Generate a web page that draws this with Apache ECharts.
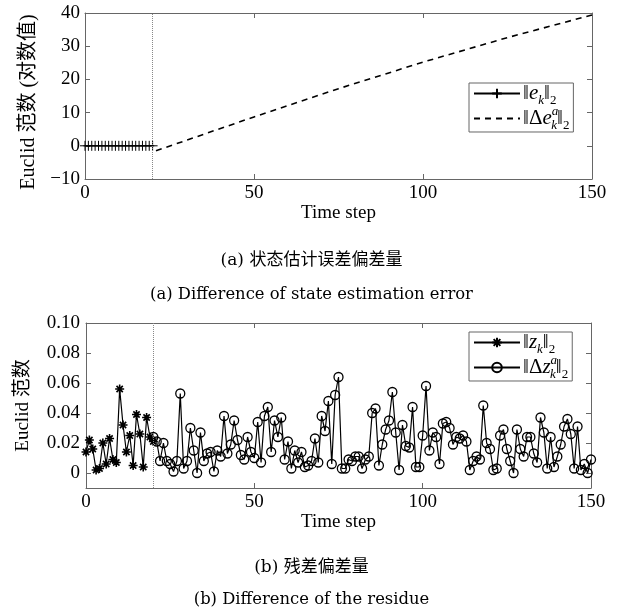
<!DOCTYPE html>
<html>
<head>
<meta charset="utf-8">
<script src="https://cdn.jsdelivr.net/npm/echarts@6/dist/echarts.min.js"></script>
<style>
  html, body { margin: 0; padding: 0; background: #fff; }
  #chart { width: 623px; height: 615px; }
</style>
</head>
<body>
<div id="chart"></div>
<script>
// top panel: state estimation error
const eStart = 0
const eNorm = [0, 0, 0, 0, 0, 0, 0, 0, 0, 0, 0, 0, 0, 0, 0, 0, 0, 0, 0, 0, 0]
const deSteps = [21, 50, 75, 100, 125, 150]
const deNorm = [-1.5, 8.7, 17.2, 25.2, 32.6, 39.4]

// bottom panel: residue
const zStart = 0
const zNorm = [0.014, 0.022, 0.016, 0.002, 0.003, 0.020, 0.006, 0.023, 0.009, 0.007,
  0.056, 0.032, 0.014, 0.025, 0.005, 0.039, 0.026, 0.004, 0.037, 0.024, 0.021]
const dzStart = 20
const dzNorm = [
  0.024, 0.021, 0.008, 0.020, 0.008, 0.006, 0.001, 0.008, 0.053, 0.003,
  0.008, 0.030, 0.015, 0.000, 0.027, 0.008, 0.013, 0.014, 0.001, 0.015,
  0.011, 0.038, 0.013, 0.019, 0.035, 0.022, 0.012, 0.009, 0.024, 0.014,
  0.010, 0.034, 0.007, 0.038, 0.044, 0.014, 0.035, 0.024, 0.037, 0.009,
  0.021, 0.003, 0.015, 0.007, 0.014, 0.004, 0.005, 0.008, 0.023, 0.007,
  0.038, 0.028, 0.048, 0.006, 0.052, 0.064, 0.003, 0.003, 0.009, 0.008,
  0.011, 0.011, 0.003, 0.009, 0.011, 0.040, 0.043, 0.005, 0.019, 0.029,
  0.035, 0.054, 0.027, 0.002, 0.032, 0.018, 0.017, 0.044, 0.004, 0.004,
  0.025, 0.058, 0.015, 0.027, 0.024, 0.006, 0.033, 0.034, 0.030, 0.019,
  0.024, 0.023, 0.025, 0.021, 0.002, 0.008, 0.011, 0.009, 0.045, 0.020,
  0.016, 0.002, 0.003, 0.025, 0.029, 0.016, 0.008, 0.000, 0.029, 0.016,
  0.011, 0.024, 0.024, 0.013, 0.007, 0.037, 0.027, 0.003, 0.024, 0.004,
  0.011, 0.019, 0.031, 0.036, 0.026, 0.003, 0.031, 0.002, 0.006, 0.000,
  0.009
]

const yTicksBottom = [0, 0.02, 0.04, 0.06, 0.08, 0.10]
const changeStep = 20

const serif = "'Liberation Serif', 'Noto Sans CJK SC', serif"
const capFont = "'DejaVu Serif', 'Noto Sans CJK SC', serif"
const axisGray = '#666'

const pairs = (start, arr) => arr.map((v, i) => [start + i, v])
const zip = (xs, ys) => xs.map((x, i) => [x, ys[i]])

const plusPath = 'path://M0,-10L0,10M-10,0L10,0'
const starPath = 'path://M0,-10L0,10M-10,0L10,0M-7,-7L7,7M-7,7L7,-7'

const rich = {
  n: { fontSize: 21, fontFamily: serif, color: '#000' },
  i: { fontSize: 21, fontFamily: serif, fontStyle: 'italic', color: '#000' },
  sub: { fontSize: 13, fontFamily: serif, fontStyle: 'italic', color: '#000', verticalAlign: 'bottom', lineHeight: 27 },
  subk: { fontSize: 13, fontFamily: serif, fontStyle: 'italic', color: '#000', verticalAlign: 'bottom', lineHeight: 27, padding: [0, 0, 0, -7] },
  sub2: { fontSize: 13, fontFamily: serif, color: '#000', verticalAlign: 'bottom', lineHeight: 27 },
  sup: { fontSize: 13, fontFamily: serif, fontStyle: 'italic', color: '#000', verticalAlign: 'top', lineHeight: 27 }
}
const legendText = {
  e: '{n|‖}{i|e}{sub|k}{n|‖}{sub2|2}',
  de: '{n|‖Δ}{i|e}{sup|a}{subk|k}{n|‖}{sub2|2}',
  z: '{n|‖}{i|z}{sub|k}{n|‖}{sub2|2}',
  dz: '{n|‖Δ}{i|z}{sup|a}{subk|k}{n|‖}{sub2|2}'
}

function xAxisPair(gridIndex, nameGap) {
  const base = {
    gridIndex, type: 'value', min: 0, max: 150, interval: 50,
    axisLine: { onZero: false, lineStyle: { color: axisGray, width: 1 } },
    axisTick: { inside: true, length: 5, lineStyle: { color: axisGray } },
    splitLine: { show: false }
  }
  return [
    Object.assign({}, base, {
      position: 'bottom',
      name: 'Time step', nameLocation: 'middle', nameGap,
      nameTextStyle: { fontFamily: serif, fontSize: 19, color: '#000' },
      axisLabel: { fontFamily: serif, fontSize: 19, color: '#000', margin: 5 }
    }),
    Object.assign({}, base, { position: 'top', axisLabel: { show: false } })
  ]
}

const yCommon = {
  type: 'value',
  axisLine: { show: true, onZero: false, lineStyle: { color: axisGray, width: 1 } },
  axisTick: { show: true, inside: true, length: 5, lineStyle: { color: axisGray } },
  splitLine: { show: false }
}

const capStyle = { fontFamily: capFont, fontSize: 16.4, fontWeight: 'normal', color: '#000' }
const cnCapStyle = Object.assign({}, capStyle, { fontSize: 17 })

const option = {
  animation: false,
  backgroundColor: '#fff',
  title: [
    { text: '(a) 状态估计误差偏差量', left: 'center', top: 247, textStyle: cnCapStyle },
    { text: '(a) Difference of state estimation error', left: 'center', top: 282, textStyle: capStyle },
    { text: '(b) 残差偏差量', left: 'center', top: 554, textStyle: cnCapStyle },
    { text: '(b) Difference of the residue', left: 'center', top: 587, textStyle: capStyle }
  ],
  grid: [
    { left: 85, top: 13, width: 507, height: 166 },
    { left: 86, top: 323, width: 505, height: 165 }
  ],
  legend: [
    {
      data: ['e', { name: 'de', itemStyle: { color: 'rgba(0,0,0,0)', borderColor: 'rgba(0,0,0,0)' } }],
      left: 469, top: 83, orient: 'vertical',
      itemWidth: 46, itemHeight: 12, itemGap: -2,
      padding: [0, 4, 0, 4],
      borderColor: axisGray, borderWidth: 1, backgroundColor: '#fff',
      formatter: n => legendText[n],
      textStyle: { rich, padding: [0, 0, 0, -2] }
    },
    {
      data: ['z', 'dz'], left: 469, top: 332, orient: 'vertical',
      itemWidth: 46, itemHeight: 12, itemGap: -2,
      padding: [0, 4, 0, 4],
      borderColor: axisGray, borderWidth: 1, backgroundColor: '#fff',
      formatter: n => legendText[n],
      textStyle: { rich, padding: [0, 0, 0, -2] }
    }
  ],
  xAxis: [...xAxisPair(0, 20), ...xAxisPair(1, 25)],
  yAxis: [
    Object.assign({}, yCommon, {
      gridIndex: 0, position: 'left', min: -10, max: 40, interval: 10,
      name: 'Euclid 范数 (对数值)', nameLocation: 'middle', nameGap: 46,
      nameTextStyle: { fontFamily: serif, fontSize: 20, color: '#000', padding: [0, 12, 0, 0] },
      axisLabel: { fontFamily: serif, fontSize: 19, color: '#000', margin: 5, formatter: v => String(v).replace('-', '−') }
    }),
    Object.assign({}, yCommon, {
      gridIndex: 0, position: 'right', min: -10, max: 40, interval: 10, axisLabel: { show: false }
    }),
    Object.assign({}, yCommon, {
      gridIndex: 1, position: 'left', min: -0.01, max: 0.10,
      name: 'Euclid 范数', nameLocation: 'middle', nameGap: 53,
      nameTextStyle: { fontFamily: serif, fontSize: 19, color: '#000' },
      axisTick: Object.assign({}, yCommon.axisTick, { customValues: yTicksBottom }),
      axisLabel: {
        fontFamily: serif, fontSize: 19, color: '#000', margin: 6,
        customValues: yTicksBottom,
        formatter: v => Math.abs(v) < 1e-9 ? '0' : v.toFixed(2)
      }
    }),
    Object.assign({}, yCommon, {
      gridIndex: 1, position: 'right', min: -0.01, max: 0.10,
      axisTick: Object.assign({}, yCommon.axisTick, { customValues: yTicksBottom }),
      axisLabel: { show: false }
    })
  ],
  series: [
    {
      name: 'e', type: 'line', xAxisIndex: 0, yAxisIndex: 0,
      data: pairs(eStart, eNorm),
      symbol: plusPath, symbolSize: 10, showAllSymbol: true,
      lineStyle: { color: '#000', width: 1 },
      itemStyle: { color: 'none', borderColor: '#000', borderWidth: 1 },
      markLine: {
        silent: true, symbol: ['none', 'none'], label: { show: false },
        lineStyle: { color: '#888', type: 'dotted', width: 1 },
        data: [{ xAxis: changeStep }]
      }
    },
    {
      name: 'de', type: 'line', xAxisIndex: 0, yAxisIndex: 0,
      data: zip(deSteps, deNorm),
      symbol: 'none',
      lineStyle: { color: '#000', width: 1.6, type: [6, 5] },
      itemStyle: { color: '#000' }
    },
    {
      name: 'z', type: 'line', xAxisIndex: 2, yAxisIndex: 2,
      data: pairs(zStart, zNorm),
      symbol: starPath, symbolSize: 9, showAllSymbol: true,
      lineStyle: { color: '#000', width: 1.2 },
      itemStyle: { color: 'none', borderColor: '#000', borderWidth: 1.6 },
      markLine: {
        silent: true, symbol: ['none', 'none'], label: { show: false },
        lineStyle: { color: '#888', type: 'dotted', width: 1 },
        data: [{ xAxis: changeStep }]
      }
    },
    {
      name: 'dz', type: 'line', xAxisIndex: 2, yAxisIndex: 2,
      data: pairs(dzStart, dzNorm),
      symbol: 'circle', symbolSize: 9, showAllSymbol: true,
      lineStyle: { color: '#000', width: 1.2 },
      itemStyle: { color: 'none', borderColor: '#000', borderWidth: 1.3 }
    }
  ]
}

const chart = echarts.init(document.getElementById('chart'))
chart.setOption(option)
</script>
</body>
</html>
